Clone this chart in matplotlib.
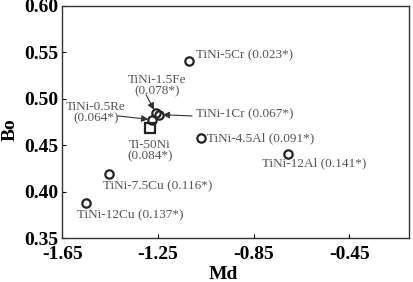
import matplotlib
matplotlib.use("Agg")
import matplotlib.pyplot as plt

# ==========================================
# DATA
# ==========================================
alloys = ["TiNi-5Cr", "TiNi-1.5Fe", "TiNi-0.5Re", "TiNi-1Cr", "TiNi-4.5Al",
          "Ti-50Ni", "TiNi-12Al", "TiNi-7.5Cu", "TiNi-12Cu"]
md = [-1.120, -1.260, -1.276, -1.245, -1.070, -1.283, -0.708, -1.454, -1.553]
bo = [0.541, 0.4848, 0.4775, 0.4829, 0.4576, 0.468, 0.441, 0.4185, 0.388]
values = ["0.023", "0.078", "0.064", "0.067", "0.091", "0.084", "0.141", "0.116", "0.137"]
markers = ["o", "o", "o", "o", "o", "s", "o", "o", "o"]

x_ticks = [-1.65, -1.25, -0.85, -0.45]
y_ticks = [0.35, 0.40, 0.45, 0.50, 0.55, 0.60]

# label placement: (x, y, ha, two_lines, arrow_start or None)
layout = [
  (-1.091, 0.5467, "left", False, None),
  (-1.254, 0.5141, "center", True, (-1.300, 0.5043)),
  (-1.510, 0.4848, "center", True, (-1.418, 0.4815)),
  (-1.091, 0.4837, "left", False, (-1.108, 0.4815)),
  (-1.045, 0.4576, "left", False, None),
  (-1.283, 0.4440, "center", True, None),
  (-0.814, 0.4304, "left", False, None),
  (-1.480, 0.4054, "left", False, None),
  (-1.589, 0.3750, "left", False, None),
]

plt.rcParams['font.family'] = ['Liberation Serif', 'DejaVu Serif']

fig = plt.figure(figsize=(4.13, 2.82), dpi=100)
ax = fig.add_axes([0.151, 0.156, 0.840, 0.823])

for x, y, m in zip(md, bo, markers):
  ax.plot(x, y, marker=m, markersize=6 if m == "o" else 6.5,
          markerfacecolor="none", markeredgecolor="#222222",
          markeredgewidth=1.6, linestyle="none", zorder=3)

for i, (tx, ty, ha, two, start) in enumerate(layout):
  sep = "\n" if two else " "
  label = f"{alloys[i]}{sep}({values[i]}*)"
  ax.text(tx, ty, label, ha=ha, va="center", fontsize=9.5,
          color="#555555", linespacing=0.95)
  if start is not None:
    ax.annotate("", xy=(md[i], bo[i]), xytext=start,
                arrowprops=dict(arrowstyle="-|>,head_length=0.4,head_width=0.2",
                                color="#333333", lw=0.8,
                                shrinkA=0, shrinkB=2.5))

ax.set_xlim(-1.65, -0.2)
ax.set_ylim(0.35, 0.60)
ax.set_xticks(x_ticks)
ax.set_yticks(y_ticks)
ax.set_xticklabels([f"{t:.2f}" for t in x_ticks])
ax.set_yticklabels([f"{t:.2f}" for t in y_ticks])
ax.tick_params(direction="in", length=3, width=0.8, labelsize=14)
ax.tick_params(axis="x", pad=6)
ax.tick_params(axis="y", pad=3)
for lab in ax.get_xticklabels() + ax.get_yticklabels():
  lab.set_fontweight("bold")
for sp in ax.spines.values():
  sp.set_linewidth(1.0)
  sp.set_color("#333333")

ax.set_xlabel("Md", fontsize=14, fontweight="bold")
ax.set_ylabel("Bo", fontsize=14, fontweight="bold")
ax.xaxis.set_label_coords(0.464, -0.12)
ax.yaxis.set_label_coords(-0.127, 0.466)

fig.savefig("out.png", dpi=100)
